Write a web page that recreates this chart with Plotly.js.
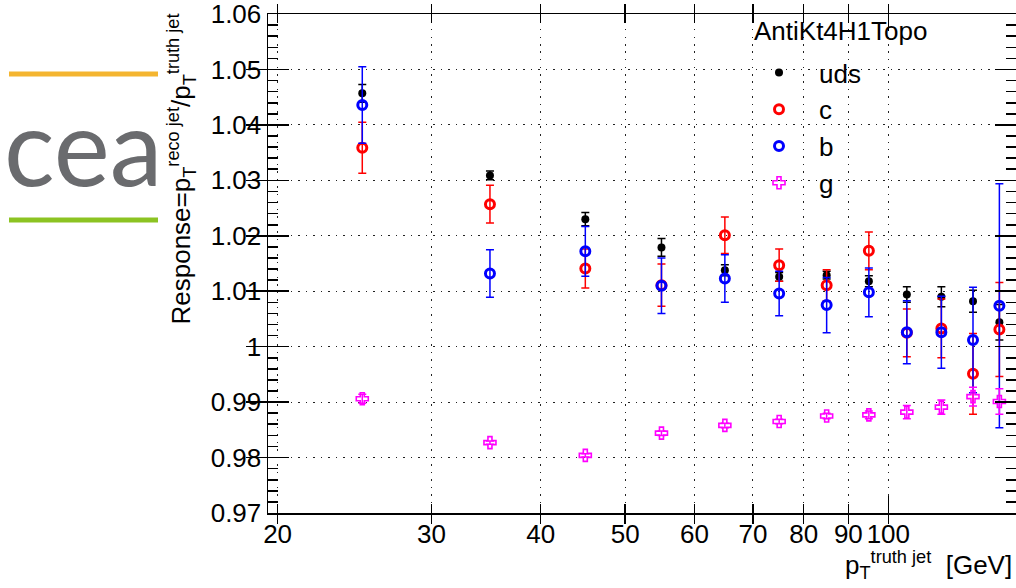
<!DOCTYPE html>
<html>
<head>
<meta charset="utf-8">
<script src="https://cdn.plot.ly/plotly-3.0.1.min.js"></script>
<style>html,body{margin:0;padding:0;background:#fff;}#chart{width:1016px;height:588px;}</style>
</head>
<body>
<div id="chart"></div>
<script>
// pT bin centres [GeV]
var ptBins = [25, 35, 45, 55, 65, 75, 85, 95, 105, 115, 125, 134];

// Response per flavour
var respUds = [1.0457, 1.0309, 1.0230, 1.0179, 1.0138, 1.0126, 1.0129, 1.0118, 1.0094, 1.0090, 1.0082, 1.0044];
var errUds  = [0.0016, 0.0008, 0.0012, 0.0016, 0.0010, 0.0008, 0.0007, 0.0010, 0.0014, 0.0018, 0.0020, 0.0032];

var respC = [1.0359, 1.0257, 1.0141, 1.0111, 1.0201, 1.0147, 1.0111, 1.0173, 1.0025, 1.0033, 0.9951, 1.0031];
var errC  = [0.0046, 0.0034, 0.0035, 0.0038, 0.0033, 0.0029, 0.0028, 0.0034, 0.0043, 0.0053, 0.0073, 0.0085];

var respB = [1.0436, 1.0132, 1.0172, 1.0110, 1.0123, 1.0096, 1.0075, 1.0098, 1.0026, 1.0026, 1.0012, 1.0074];
var errB  = [0.0069, 0.0043, 0.0045, 0.0050, 0.0043, 0.0040, 0.0050, 0.0044, 0.0057, 0.0065, 0.0095, 0.0220];

var respG = [0.9906, 0.9827, 0.9804, 0.9844, 0.9858, 0.9865, 0.9875, 0.9877, 0.9882, 0.9891, 0.9910, 0.9901];
var errG  = [0.0008, 0.0003, 0.0003, 0.0004, 0.0004, 0.0004, 0.0005, 0.0007, 0.0012, 0.0013, 0.0017, 0.0023];

// Tick labels
var xTickVals = [20, 30, 40, 50, 60, 70, 80, 90, 100];
var xTickText = ['20', '30', '40', '50', '60', '70', '80', '90', '100'];
var xDecadeTicks = [100];
var yTickVals = [0.97, 0.98, 0.99, 1.00, 1.01, 1.02, 1.03, 1.04, 1.05, 1.06];
var yTickText = ['0.97', '0.98', '0.99', '1', '1.01', '1.02', '1.03', '1.04', '1.05', '1.06'];
var yMinorVals = [];
for (var i = 0; i <= 45; i++) { if (i % 5 !== 0) yMinorVals.push(Math.round((0.97 + i * 0.002) * 10000) / 10000); }

var FONT = 'Liberation Sans, Arial, Helvetica, sans-serif';
var XRANGE = [Math.log10(19.5), Math.log10(140)];
var YRANGE = [0.97, 1.06001];

function series(name, y, err, color, symbol, size, lw, grp) {
  return {
    type: 'scatter', mode: 'markers', name: name, x: ptBins, y: y,
    legendgroup: grp,
    marker: {color: color, symbol: symbol, size: size, line: {color: color, width: lw}},
    error_y: {type: 'data', array: err, visible: true, color: color, thickness: 1.5, width: 4},
    cliponaxis: false
  };
}

var traces = [
  series('uds', respUds, errUds, '#000000', 'circle', 8, 0, 'a'),
  series('c', respC, errC, '#ff0000', 'circle-open', 9, 3, 'b'),
  series('b', respB, errB, '#0000ff', 'circle-open', 9, 3, 'c'),
  series('g', respG, errG, '#ff00ff', 'cross-open', 10, 1.6, 'd')
];
// hidden traces that bind the extra tick axes
traces.push({type: 'scatter', mode: 'markers', x: [ptBins[0]], y: [respG[0]], yaxis: 'y2',
             marker: {opacity: 0}, showlegend: false, hoverinfo: 'skip'});
traces.push({type: 'scatter', mode: 'markers', x: [ptBins[0]], y: [respG[0]], xaxis: 'x2',
             marker: {opacity: 0}, showlegend: false, hoverinfo: 'skip'});

var W = 1016, H = 588, L = 268, R = 0, T = 14, B = 75;
function px(p) { return (p - L) / (W - L - R); }
function py(p) { return (H - B - p) / (H - B - T); }

var GRID = {showgrid: true, gridcolor: '#222', griddash: '1.5px,6px', gridwidth: 1};
var TW = 1.6;

var layout = {
  width: W, height: H,
  margin: {l: L, r: R, t: T, b: B, pad: 0},
  paper_bgcolor: '#ffffff', plot_bgcolor: '#ffffff',
  font: {family: FONT, size: 26, color: '#000'},
  showlegend: true,
  legend: {
    x: px(739), y: py(49), xanchor: 'left', yanchor: 'top',
    bgcolor: 'rgba(0,0,0,0)', borderwidth: 0,
    font: {family: FONT, size: 26, color: '#000'},
    itemwidth: 70, tracegroupgap: 0, traceorder: 'grouped'
  },
  xaxis: Object.assign({
    type: 'log', range: XRANGE,
    tickmode: 'array', tickvals: xTickVals, ticktext: xTickText,
    ticks: 'inside', ticklen: 9, tickwidth: TW, tickcolor: '#000',
    showline: true, linecolor: '#000', linewidth: 1.5, mirror: 'allticks',
    zeroline: false, layer: 'above traces', ticklabeloverflow: 'allow',
    ticklabelstandoff: -3,
    tickfont: {family: FONT, size: 26, color: '#000'}
  }, GRID),
  xaxis2: {
    type: 'log', range: XRANGE, overlaying: 'x', side: 'bottom',
    tickmode: 'array', tickvals: xDecadeTicks, showticklabels: false,
    ticks: 'inside', ticklen: 17, tickwidth: TW, tickcolor: '#000',
    showline: false, mirror: 'allticks', showgrid: false, zeroline: false
  },
  yaxis: Object.assign({
    range: YRANGE,
    tickmode: 'array', tickvals: yTickVals, ticktext: yTickText,
    ticks: 'inside', ticklen: 21, tickwidth: TW, tickcolor: '#000',
    showline: true, linecolor: '#000', linewidth: 1.5, mirror: 'allticks',
    zeroline: false, layer: 'above traces', ticklabeloverflow: 'allow',
    tickfont: {family: FONT, size: 26, color: '#000'}
  }, GRID),
  yaxis2: {
    overlaying: 'y', side: 'left', range: YRANGE,
    tickmode: 'array', tickvals: yMinorVals, showticklabels: false,
    ticks: 'inside', ticklen: 10, tickwidth: TW, tickcolor: '#000',
    showline: false, mirror: 'allticks', showgrid: false, zeroline: false
  },
  shapes: [
    {type: 'line', xref: 'paper', yref: 'paper', x0: px(9), x1: px(158), y0: py(74), y1: py(74),
     line: {color: '#f4b530', width: 5}},
    {type: 'line', xref: 'paper', yref: 'paper', x0: px(9), x1: px(158), y0: py(220), y1: py(220),
     line: {color: '#8cc322', width: 5}}
  ],
  annotations: [
    {xref: 'paper', yref: 'paper', x: px(752), y: py(14), xanchor: 'left', yanchor: 'top',
     text: 'AntiKt4H1Topo', showarrow: false, font: {family: FONT, size: 26, color: '#000'}},
    {xref: 'paper', yref: 'paper', x: px(201), y: py(12), xanchor: 'right', yanchor: 'top', textangle: -90,
     text: 'Response=p<sub>T</sub><sup>reco jet</sup>/p<sub>T</sub><sup>truth jet</sup>',
     showarrow: false, font: {family: FONT, size: 26, color: '#000'}},
    {xref: 'paper', yref: 'paper', x: px(1014), y: py(545), xanchor: 'right', yanchor: 'top',
     text: 'p<sub>T</sub><sup>truth jet</sup>  [GeV]',
     showarrow: false, font: {family: FONT, size: 26, color: '#000'}},
    {xref: 'paper', yref: 'paper', x: px(83), y: py(145), xanchor: 'center', yanchor: 'middle',
     text: 'cea', showarrow: false, font: {family: 'Lato, Liberation Sans, sans-serif', size: 106, weight: 400, color: '#6a6b6e'}}
  ]
};

Plotly.newPlot('chart', traces, layout, {displayModeBar: false, staticPlot: true});
</script>
</body>
</html>
